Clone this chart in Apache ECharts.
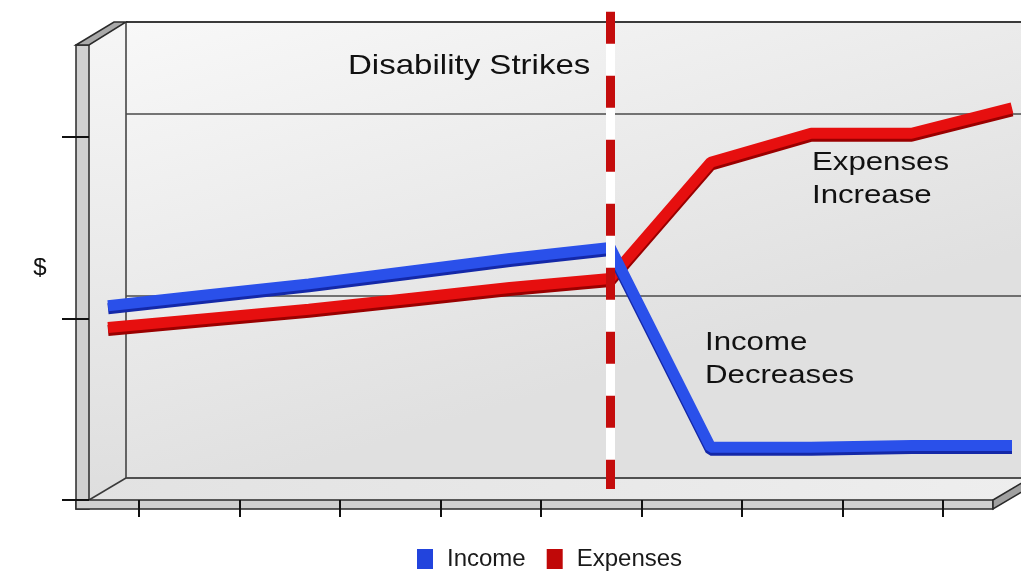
<!DOCTYPE html>
<html>
<head>
<meta charset="utf-8">
<script src="https://cdn.jsdelivr.net/npm/echarts@6/dist/echarts.min.js"></script>
<style>
html, body { margin: 0; padding: 0; background: #fff; }
#chart { width: 1021px; height: 575px; }
</style>
</head>
<body>
<div id="chart"></div>
<script>
// data
var periods = ['1', '2', '3', '4', '5', '6', '7', '8', '9', '10'];
var tickSlots = ['', '', '', '', '', '', '', '', ''];
var income = [101, 107, 113, 120, 127, 133, 23, 23, 24, 24];
var expenses = [89, 94, 99, 105, 111, 116, 180, 196, 196, 210];
var eventIndex = 5; // period where disability strikes
var eventTop = 263;

var FONT = 'Liberation Sans, Arial, sans-serif';

var chart = echarts.init(document.getElementById('chart'));

function grad(x0, y0, x1, y1, c0, c1) {
  return new echarts.graphic.LinearGradient(x0, y0, x1, y1, [
    { offset: 0, color: c0 },
    { offset: 1, color: c1 }
  ]);
}

var edge = { stroke: '#3a3a3a', lineWidth: 1.5 };

var option = {
  animation: false,
  backgroundColor: '#fff',
  grid: [
    // back wall
    { left: 126, right: -9, top: 114, bottom: 97 },
    // front plane (axes)
    { left: 89, right: 28, top: 137, bottom: 75 },
    // lines, mid depth (1.815 px per unit, 0 at y=489)
    { left: 108, right: 9, top: 8, bottom: 86 }
  ],
  xAxis: [
    { gridIndex: 0, type: 'category', data: tickSlots, show: false },
    {
      gridIndex: 1,
      type: 'category',
      data: tickSlots,
      boundaryGap: true,
      axisLine: { show: false },
      axisTick: { show: true, alignWithLabel: true, length: 17, lineStyle: { color: '#111', width: 2 } },
      axisLabel: { show: false },
      splitLine: { show: false }
    },
    { gridIndex: 2, type: 'category', data: periods, boundaryGap: false, show: false }
  ],
  yAxis: [
    {
      gridIndex: 0, type: 'value', min: 0, max: 200, interval: 100,
      axisLine: { show: false }, axisTick: { show: false }, axisLabel: { show: false },
      splitLine: { show: true, lineStyle: { color: '#4a4a4a', width: 1.5 } }
    },
    {
      gridIndex: 1, type: 'value', min: 0, max: 200, interval: 100,
      axisLine: { show: false },
      axisTick: { show: true, length: 27, lineStyle: { color: '#111', width: 2 } },
      axisLabel: { show: false },
      splitLine: { show: false }
    },
    { gridIndex: 2, type: 'value', min: 0, max: 265, show: false }
  ],
  legend: {
    data: ['Income', 'Expenses'],
    left: 412,
    top: 542,
    icon: 'rect',
    itemWidth: 16,
    itemHeight: 20,
    itemGap: 21,
    textStyle: { fontSize: 24, color: '#1a1a1a', fontFamily: FONT, padding: [0, 0, 0, 9] }
  },
  graphic: [
    // back wall
    { type: 'rect', z: -10, shape: { x: 126, y: 22, width: 910, height: 456 },
      style: { fill: grad(0, 0, 0.15, 1, '#f8f8f8', '#e0e0e0') } },
    // left wall
    { type: 'polygon', z: -10, shape: { points: [[89, 44], [126, 22], [126, 478], [89, 500]] },
      style: { fill: grad(0, 0, 0, 1, '#f6f6f6', '#dedede') } },
    // floor
    { type: 'polygon', z: -10, shape: { points: [[89, 500], [126, 478], [1030, 478], [993, 500]] },
      style: { fill: grad(0, 0, 1, 0, '#e2e2e2', '#eeeeee') } },
    { type: 'line', z: -9, shape: { x1: 126, y1: 22, x2: 1021, y2: 22 }, style: { stroke: '#3a3a3a', lineWidth: 2 } },
    { type: 'line', z: -9, shape: { x1: 126, y1: 22, x2: 126, y2: 478 }, style: edge },
    { type: 'line', z: -9, shape: { x1: 126, y1: 478, x2: 1030, y2: 478 }, style: edge },
    { type: 'line', z: -9, shape: { x1: 89, y1: 500, x2: 126, y2: 478 }, style: edge },
    // left slab
    { type: 'rect', z: -8, shape: { x: 76, y: 45, width: 13, height: 464 },
      style: { fill: '#d0d0d0', stroke: '#2a2a2a', lineWidth: 1.5 } },
    { type: 'polygon', z: -8, shape: { points: [[76, 45], [114, 22], [126, 22], [89, 45]] },
      style: { fill: '#a9a9a9', stroke: '#2a2a2a', lineWidth: 1.5 } },
    // bottom slab
    { type: 'rect', z: -8, shape: { x: 76, y: 500, width: 917, height: 9 },
      style: { fill: '#d0d0d0', stroke: '#2a2a2a', lineWidth: 1.5 } },
    { type: 'polygon', z: -8, shape: { points: [[993, 500], [1030, 478], [1030, 487], [993, 509]] },
      style: { fill: '#a0a0a0', stroke: '#2a2a2a', lineWidth: 1.5 } },
    // annotations
    { type: 'text', z: 20, x: 348, y: 66, scaleX: 1.18,
      style: { text: 'Disability Strikes', x: 0, y: 0, font: '28px ' + FONT, fill: '#111', verticalAlign: 'middle' } },
    { type: 'text', z: 20, x: 812, y: 163, scaleX: 1.2,
      style: { text: 'Expenses', x: 0, y: 0, font: '26px ' + FONT, fill: '#111', verticalAlign: 'middle' } },
    { type: 'text', z: 20, x: 812, y: 196, scaleX: 1.2,
      style: { text: 'Increase', x: 0, y: 0, font: '26px ' + FONT, fill: '#111', verticalAlign: 'middle' } },
    { type: 'text', z: 20, x: 705, y: 343, scaleX: 1.2,
      style: { text: 'Income', x: 0, y: 0, font: '26px ' + FONT, fill: '#111', verticalAlign: 'middle' } },
    { type: 'text', z: 20, x: 705, y: 376, scaleX: 1.2,
      style: { text: 'Decreases', x: 0, y: 0, font: '26px ' + FONT, fill: '#111', verticalAlign: 'middle' } },
    { type: 'text', z: 20, x: 40, y: 268,
      style: { text: '$', x: 0, y: 0, font: '24px ' + FONT, fill: '#111', align: 'center', verticalAlign: 'middle' } }
  ],
  series: [
    {
      name: 'Expenses',
      type: 'line',
      xAxisIndex: 2,
      yAxisIndex: 2,
      data: expenses,
      symbol: 'none',
      clip: false,
      z: 3,
      itemStyle: { color: '#c00808' },
      lineStyle: { color: '#e60f0f', width: 11, cap: 'butt', join: 'bevel',
        shadowColor: '#9a0000', shadowOffsetY: 3, shadowBlur: 0 }
    },
    {
      name: 'Income',
      type: 'line',
      xAxisIndex: 2,
      yAxisIndex: 2,
      data: income,
      symbol: 'none',
      clip: false,
      z: 4,
      itemStyle: { color: '#2244dd' },
      lineStyle: { color: '#2a50ea', width: 11, cap: 'butt', join: 'bevel',
        shadowColor: '#1428a8', shadowOffsetY: 3, shadowBlur: 0 },
      markLine: {
        silent: true,
        symbol: ['none', 'none'],
        label: { show: false },
        data: [
          [
            { coord: [eventIndex, eventTop], lineStyle: { color: '#ffffff', width: 9, type: 'solid', shadowBlur: 0, shadowOffsetY: 0 } },
            { coord: [eventIndex, 0] }
          ],
          [
            { coord: [eventIndex, eventTop], lineStyle: { color: '#c40c0c', width: 9, type: [32, 32], shadowBlur: 0, shadowOffsetY: 0 } },
            { coord: [eventIndex, 0] }
          ]
        ]
      }
    }
  ]
};

chart.setOption(option);
</script>
</body>
</html>
